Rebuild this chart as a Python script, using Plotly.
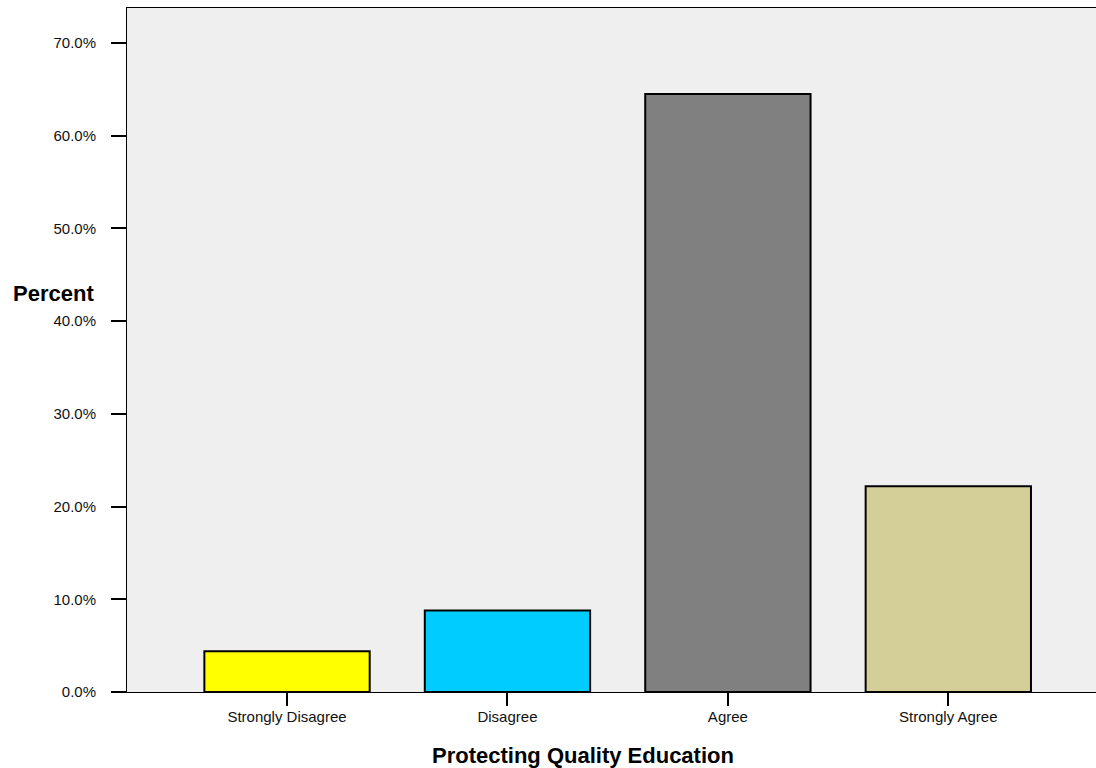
import plotly.graph_objects as go

categories = ["Strongly Disagree", "Disagree", "Agree", "Strongly Agree"]
percents = [4.4, 8.8, 64.5, 22.2]
colors = ["#FFFF00", "#00CCFF", "#808080", "#D4CF98"]
tick_vals = [0, 10, 20, 30, 40, 50, 60, 70]
tick_text = ["0.0%", "10.0%", "20.0%", "30.0%", "40.0%", "50.0%", "60.0%", "70.0%"]

fig = go.Figure()
fig.add_trace(go.Bar(
    x=categories, y=percents, width=0.75,
    marker=dict(color=colors, line=dict(color="black", width=2)),
    showlegend=False, hoverinfo="skip",
))

fig.update_layout(
    width=1096, height=768,
    margin=dict(l=127, r=0, t=8, b=76),
    paper_bgcolor="white", plot_bgcolor="#EFEFEF",
    font=dict(family="Arial, Liberation Sans, sans-serif", size=15, color="#111111"),
)
fig.update_xaxes(
    type="category", range=[-0.726, 3.67],
    showline=True, linecolor="black", linewidth=1, mirror=True,
    ticks="outside", ticklen=13, tickwidth=2, tickcolor="black",
    showgrid=False, zeroline=False,
    tickfont=dict(size=15), ticklabelstandoff=-2,
)
fig.update_yaxes(
    range=[0, 73.78], tickvals=tick_vals, ticktext=tick_text,
    showline=True, linecolor="black", linewidth=1,
    ticks="outside", ticklen=15, tickwidth=2, tickcolor="black",
    showgrid=False, zeroline=False,
    tickfont=dict(size=15), ticklabelstandoff=12,
)
fig.add_annotation(
    text="<b>Percent</b>", xref="paper", yref="paper",
    x=-(127 - 11) / 969, y=(692 - 293) / 684, xanchor="left", yanchor="middle",
    showarrow=False, font=dict(size=22, color="black"),
)
fig.add_annotation(
    text="<b>Protecting Quality Education</b>", xref="paper", yref="paper",
    x=(583 - 127) / 969, y=-(755 - 692) / 684, xanchor="center", yanchor="middle",
    showarrow=False, font=dict(size=22, color="black"),
)

fig.write_html(
    "out.html",
    config={"displayModeBar": False},
    post_script="document.body.style.margin='0';document.body.style.overflow='hidden';",
)
